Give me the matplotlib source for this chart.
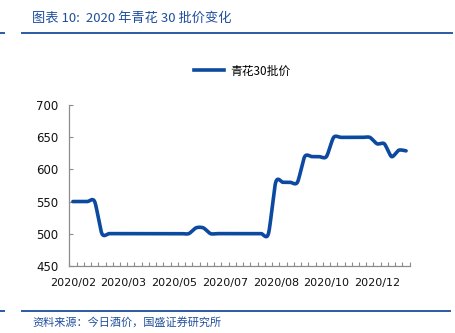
import numpy as np
import matplotlib
matplotlib.use('Agg')
import matplotlib.pyplot as plt
from matplotlib.lines import Line2D

plt.rcParams['font.family'] = ['Noto Sans CJK SC', 'DejaVu Sans']

# weekly wholesale price of 青花30, 2020
prices = [550, 550, 550, 550, 500, 500, 500, 500, 500, 500,
          500, 500, 500, 500, 500, 500, 500, 509, 509, 500,
          500, 500, 500, 500, 500, 500, 500, 500, 580, 580,
          580, 580, 620, 620, 620, 620, 650, 650, 650, 650,
          650, 650, 640, 640, 620, 630, 629]
label_idx = [0, 7, 14, 21, 28, 35, 42]
labels = ['2020/02', '2020/03', '2020/05', '2020/07', '2020/08', '2020/10', '2020/12']
series_name = '青花30批价'
yticks = [450, 500, 550, 600, 650, 700]

BLUE = '#0c4aa0'
TEXT_BLUE = '#1f4e9c'
GRAY = '#8c8c8c'


def smooth(x, y, steps=20, tension=0.8):
    # catmull-rom style curve through the points, like the office "smoothed line"
    x = np.asarray(x, float)
    y = np.asarray(y, float)
    px = np.concatenate([[x[0]], x, [x[-1]]])
    py = np.concatenate([[y[0]], y, [y[-1]]])
    xs, ys = [], []
    t = np.linspace(0, 1, steps, endpoint=False)
    h00 = 2 * t ** 3 - 3 * t ** 2 + 1
    h10 = t ** 3 - 2 * t ** 2 + t
    h01 = -2 * t ** 3 + 3 * t ** 2
    h11 = t ** 3 - t ** 2
    for i in range(1, len(px) - 2):
        for p, out in ((px, xs), (py, ys)):
            p0, p1, p2, p3 = p[i - 1], p[i], p[i + 1], p[i + 2]
            m1 = tension * (p2 - p0) / 2
            m2 = tension * (p3 - p1) / 2
            out.extend(h00 * p1 + h10 * m1 + h01 * p2 + h11 * m2)
    xs.append(x[-1])
    ys.append(y[-1])
    return np.array(xs), np.array(ys)


fig = plt.figure(figsize=(4.55, 3.33), dpi=100)
ax = fig.add_axes([0.1523, 0.2021, 0.9004 - 0.1523, 0.6838 - 0.2021])

n = len(prices)
x = np.arange(n)
sx, sy = smooth(x, prices)
ax.plot(sx, sy, color=BLUE, lw=2.6, solid_capstyle='round')

ax.set_xlim(-0.5, n - 0.5)
ax.set_ylim(450, 700)
ax.set_yticks(yticks)
ax.set_xticks(label_idx)
ax.set_xticklabels(labels)
ax.set_xticks(np.arange(-0.5, n), minor=True)

for s in ['top', 'right']:
    ax.spines[s].set_visible(False)
for s in ['left', 'bottom']:
    ax.spines[s].set_color(GRAY)
    ax.spines[s].set_linewidth(0.9)

ax.tick_params(axis='x', which='major', length=0, pad=9, labelsize=8.0, labelcolor='#111111')
ax.tick_params(axis='x', which='minor', direction='in', length=3, color=GRAY, width=0.8)
ax.tick_params(axis='y', direction='in', length=3, color=GRAY, width=0.8, pad=8,
               labelsize=8.5, labelcolor='#111111')
for lab in ax.get_xticklabels() + ax.get_yticklabels():
    lab.set_family('DejaVu Sans')

handle = Line2D([], [], color=BLUE, lw=2.6)
fig.legend([handle], [series_name], loc='center', bbox_to_anchor=(0.532, 1 - 71 / 333),
           frameon=False, fontsize=8.5, handlelength=2.6, handletextpad=0.5)

# header / footer decoration
fig.text(32 / 455, 1 - 18 / 333, '图表 10:  2020 年青花 30 批价变化', color=TEXT_BLUE,
         fontsize=9.5, style='italic', va='center', ha='left')
fig.add_artist(Line2D([22 / 455, 452 / 455], [1 - 33 / 333] * 2, color='#2c5ba3', lw=1.4))
fig.add_artist(Line2D([0, 4 / 455], [1 - 33 / 333] * 2, color='#2c5ba3', lw=1.4))
fig.add_artist(Line2D([22 / 455, 450 / 455], [1 - 311 / 333] * 2, color='#2c5ba3', lw=1.4))
fig.add_artist(Line2D([0, 4 / 455], [1 - 311 / 333] * 2, color='#2c5ba3', lw=1.4))
fig.text(32 / 455, 1 - 322 / 333, '资料来源：今日酒价，国盛证券研究所', color=TEXT_BLUE,
         fontsize=8, style='italic', va='center', ha='left')

fig.savefig('out.png', dpi=100)
